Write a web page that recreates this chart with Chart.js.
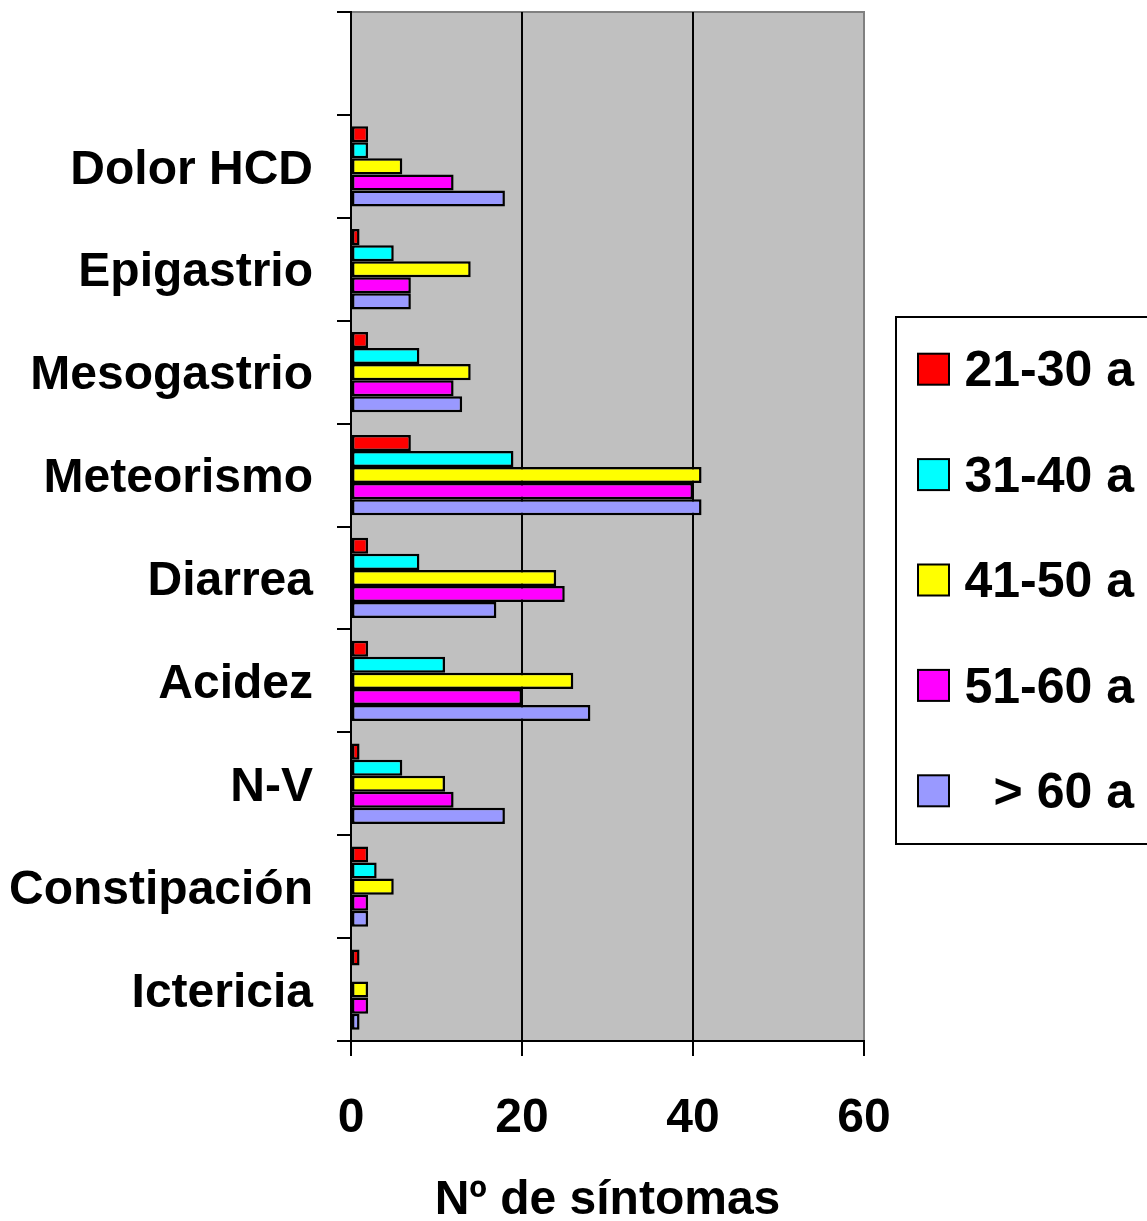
<!DOCTYPE html>
<html>
<head>
<meta charset="utf-8">
<script src="https://cdn.jsdelivr.net/npm/chart.js@4"></script>
<style>
  body { margin: 0; background: #fff; }
  canvas { display: block; }
</style>
</head>
<body>
<canvas id="myChart" width="1147" height="1221"></canvas>
<script>
// categories, top to bottom (the chart leaves one blank slot above them)
const categories = ['Dolor HCD', 'Epigastrio', 'Mesogastrio', 'Meteorismo', 'Diarrea', 'Acidez', 'N-V', 'Constipación', 'Ictericia'];
const seriesNames = ['21-30 a', '31-40 a', '41-50 a', '51-60 a', '> 60 a'];
const age21_30 = [2, 1, 2, 7, 2, 2, 1, 2, 1];
const age31_40 = [2, 5, 8, 19, 8, 11, 6, 3, 0];
const age41_50 = [6, 14, 14, 41, 24, 26, 11, 5, 2];
const age51_60 = [12, 7, 12, 40, 25, 20, 12, 2, 2];
const age60plus = [18, 7, 13, 41, 17, 28, 18, 2, 1];
const xTicks = [0, 20, 40, 60];
const colors = ['#ff0000', '#00ffff', '#ffff00', '#ff00ff', '#9999ff'];

const font = { family: 'Liberation Sans, Arial, sans-serif', size: 48, weight: 'bold' };
const labels = [''].concat(categories);
const allSeries = [age21_30, age31_40, age41_50, age51_60, age60plus];

const datasets = allSeries.map((s, i) => ({
    label: seriesNames[i],
    data: [null].concat(s),
    backgroundColor: colors[i],
    borderColor: '#000',
    borderWidth: 2.5,
    borderSkipped: false,
    categoryPercentage: 0.78,
    barPercentage: 1
}));

// grey plot background with thin grey frame
const plotBg = {
    id: 'plotBg',
    beforeDraw(chart) {
        const { ctx, chartArea: a } = chart;
        ctx.save();
        ctx.fillStyle = '#c0c0c0';
        ctx.fillRect(a.left, a.top, a.right - a.left, a.bottom - a.top);
        ctx.strokeStyle = '#808080';
        ctx.lineWidth = 2;
        ctx.strokeRect(a.left, a.top, a.right - a.left, a.bottom - a.top);
        ctx.restore();
    }
};

// boxed legend on the right
const boxLegend = {
    id: 'boxLegend',
    afterDraw(chart) {
        const ctx = chart.ctx;
        const top = 317, bottom = 844, left = 896;
        ctx.save();
        ctx.strokeStyle = '#000';
        ctx.lineWidth = 2;
        ctx.strokeRect(left, top, 300, bottom - top);
        const step = (bottom - top) / chart.data.datasets.length;
        ctx.font = 'bold 50px "Liberation Sans", Arial, sans-serif';
        ctx.textAlign = 'right';
        ctx.textBaseline = 'middle';
        chart.data.datasets.forEach((ds, i) => {
            const cy = top + step * (i + 0.5);
            ctx.fillStyle = ds.backgroundColor;
            ctx.fillRect(918, cy - 16, 31, 31);
            ctx.strokeStyle = '#000';
            ctx.lineWidth = 2;
            ctx.strokeRect(918, cy - 16, 31, 31);
            ctx.fillStyle = '#000';
            ctx.fillText(ds.label, 1134, cy + 3);
        });
        ctx.restore();
    }
};

new Chart('myChart', {
    type: 'bar',
    data: { labels: labels, datasets: datasets },
    plugins: [plotBg, boxLegend],
    options: {
        indexAxis: 'y',
        responsive: false,
        animation: false,
        layout: { padding: { top: 12, right: 283, left: 0, bottom: 0 } },
        plugins: {
            legend: { display: false },
            tooltip: { enabled: false }
        },
        scales: {
            x: {
                min: 0,
                max: 60,
                afterBuildTicks: (scale) => { scale.ticks = xTicks.map(v => ({ value: v })); },
                afterFit: (scale) => { scale.height = 180; scale.paddingLeft = 0; scale.paddingRight = 0; },
                border: { color: '#000', width: 2 },
                grid: {
                    color: (c) => (c.tick && c.tick.value === 60 ? '#808080' : '#000'),
                    tickColor: '#000',
                    lineWidth: 2,
                    tickLength: 15
                },
                ticks: { color: '#000', font: font, padding: 34 },
                title: {
                    display: true,
                    text: 'Nº de síntomas',
                    color: '#000',
                    font: { family: font.family, size: 48, weight: 'bold', lineHeight: 1 },
                    padding: { top: 0, bottom: -4 }
                }
            },
            y: {
                afterFit: (scale) => { scale.width = 351; scale.paddingTop = 0; scale.paddingBottom = 0; },
                border: { color: '#000', width: 2 },
                grid: {
                    drawOnChartArea: false,
                    offset: true,
                    color: '#000',
                    tickColor: '#000',
                    lineWidth: 2,
                    tickLength: 14
                },
                ticks: { color: '#000', font: font, padding: 24, autoSkip: false, labelOffset: 4 }
            }
        }
    }
});
</script>
</body>
</html>
